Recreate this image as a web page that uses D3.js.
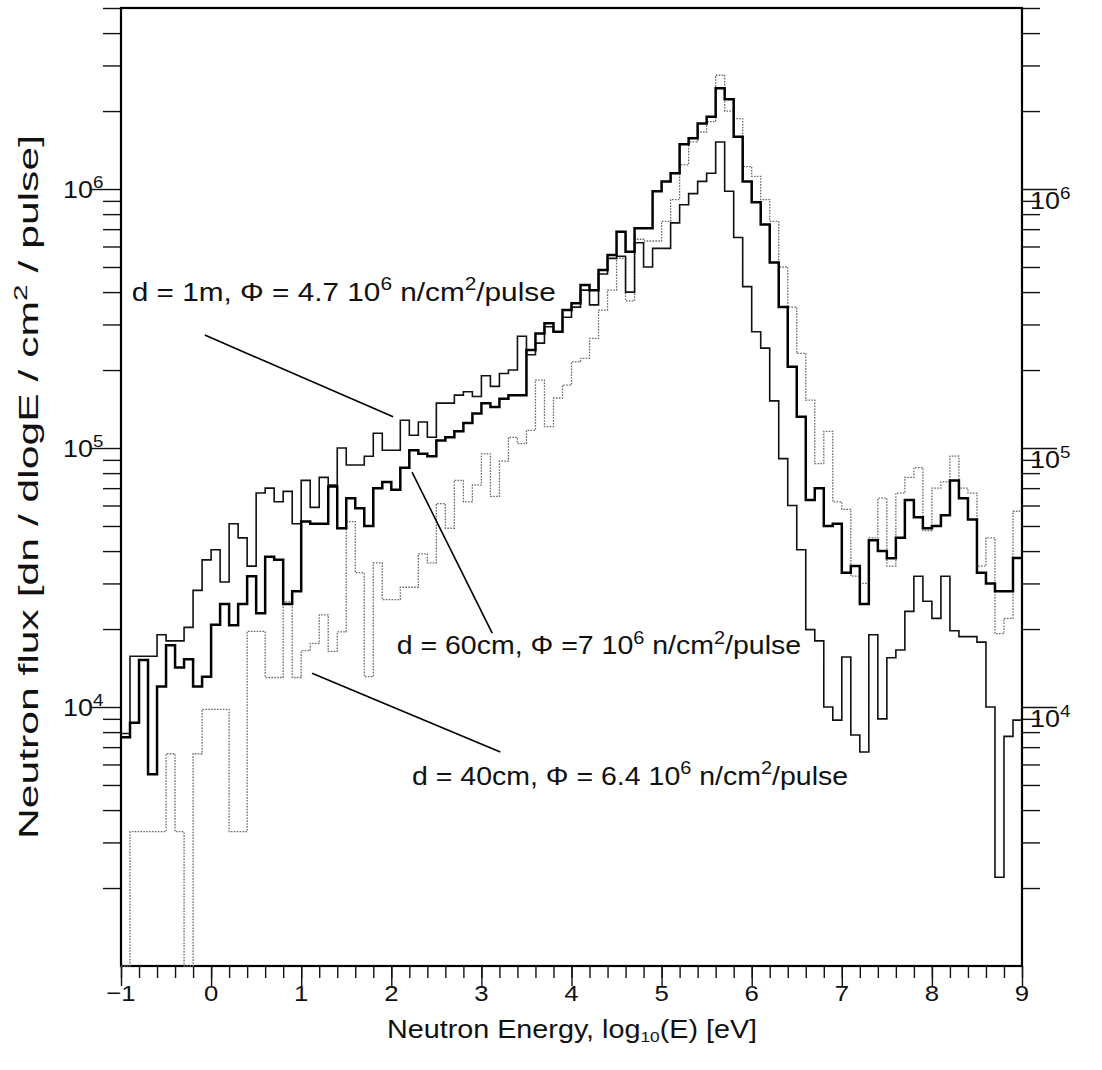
<!DOCTYPE html>
<html>
<head>
<meta charset="utf-8">
<script src="https://cdn.jsdelivr.net/npm/d3@7"></script>
<style>
  body { margin: 0; background: #fff; }
  svg { display: block; }
  text { font-family: "Liberation Sans", Arial, Helvetica, sans-serif; fill: #111; }
</style>
</head>
<body>
<svg id="chart" width="1102" height="1070"></svg>
<script>
// lower edge of each log10(E) bin, 0.1 wide
const binLow = [
  -1.0,-0.9,-0.8,-0.7,-0.6,-0.5,-0.4,-0.3,-0.2,-0.1,
   0.0, 0.1, 0.2, 0.3, 0.4, 0.5, 0.6, 0.7, 0.8, 0.9,
   1.0, 1.1, 1.2, 1.3, 1.4, 1.5, 1.6, 1.7, 1.8, 1.9,
   2.0, 2.1, 2.2, 2.3, 2.4, 2.5, 2.6, 2.7, 2.8, 2.9,
   3.0, 3.1, 3.2, 3.3, 3.4, 3.5, 3.6, 3.7, 3.8, 3.9,
   4.0, 4.1, 4.2, 4.3, 4.4, 4.5, 4.6, 4.7, 4.8, 4.9,
   5.0, 5.1, 5.2, 5.3, 5.4, 5.5, 5.6, 5.7, 5.8, 5.9,
   6.0, 6.1, 6.2, 6.3, 6.4, 6.5, 6.6, 6.7, 6.8, 6.9,
   7.0, 7.1, 7.2, 7.3, 7.4, 7.5, 7.6, 7.7, 7.8, 7.9,
   8.0, 8.1, 8.2, 8.3, 8.4, 8.5, 8.6, 8.7, 8.8, 8.9
];
const binTop = 9.0;

// d = 1m (thin solid)
const flux1m = [
  7.9e3, 1.57e4, 1.57e4, 1.57e4, 1.9e4, 1.8e4, 1.8e4, 2.03e4, 2.82e4, 3.7e4,
  4.05e4, 3.04e4, 5.1e4, 4.5e4, 3.5e4, 6.7e4, 7.0e4, 6.2e4, 6.8e4, 5.1e4,
  7.5e4, 5.9e4, 7.7e4, 7.2e4, 1.0e5, 8.6e4, 8.6e4, 9.3e4, 1.14e5, 9.8e4,
  9.8e4, 1.28e5, 1.12e5, 1.26e5, 1.1e5, 1.49e5, 1.49e5, 1.6e5, 1.65e5, 1.58e5,
  1.9e5, 1.73e5, 1.94e5, 2.0e5, 2.7e5, 2.29e5, 2.54e5, 2.94e5, 2.81e5, 3.2e5,
  3.5e5, 4.07e5, 3.57e5, 4.7e5, 5.4e5, 5.5e5, 4.0e5, 6.2e5, 5.0e5, 5.9e5,
  5.9e5, 7.4e5, 8.7e5, 9.6e5, 1.07e6, 1.15e6, 1.52e6, 9.8e5, 6.5e5, 4.2e5,
  2.81e5, 2.43e5, 1.52e5, 9.1e4, 6.0e4, 4.05e4, 1.99e4, 1.8e4, 1.0e4, 8.9e3,
  1.56e4, 7.8e3, 6.7e3, 1.9e4, 9.0e3, 1.55e4, 1.66e4, 2.34e4, 3.2e4, 2.56e4,
  2.2e4, 3.2e4, 1.97e4, 1.87e4, 1.87e4, 1.78e4, 1.0e4, 2.2e3, 7.7e3, 8.9e3
];

// d = 60cm (thick solid)
const flux60cm = [
  7.65e3, 8.7e3, 1.52e4, 5.5e3, 1.2e4, 1.73e4, 1.42e4, 1.53e4, 1.2e4, 1.31e4,
  2.08e4, 2.5e4, 2.07e4, 2.5e4, 3.2e4, 2.3e4, 3.8e4, 3.7e4, 2.5e4, 2.8e4,
  5.2e4, 5.1e4, 5.1e4, 7.1e4, 4.9e4, 6.4e4, 5.85e4, 5.0e4, 7.0e4, 7.4e4,
  6.9e4, 8.4e4, 9.8e4, 9.5e4, 9.3e4, 1.07e5, 1.1e5, 1.16e5, 1.25e5, 1.36e5,
  1.49e5, 1.44e5, 1.55e5, 1.6e5, 1.6e5, 2.39e5, 2.77e5, 3.03e5, 2.81e5, 3.41e5,
  3.62e5, 4.26e5, 4.07e5, 4.87e5, 5.56e5, 6.84e5, 5.73e5, 7.05e5, 7.05e5, 9.8e5,
  1.07e6, 1.15e6, 1.49e6, 1.57e6, 1.79e6, 1.9e6, 2.45e6, 2.22e6, 1.59e6, 1.07e6,
  8.9e5, 7.3e5, 5.2e5, 3.5e5, 2.06e5, 1.32e5, 6.3e4, 7.0e4, 5.0e4, 5.1e4,
  3.3e4, 3.5e4, 2.5e4, 4.4e4, 4.0e4, 3.75e4, 4.5e4, 6.3e4, 5.4e4, 4.9e4,
  5.0e4, 5.5e4, 7.5e4, 6.4e4, 5.3e4, 3.3e4, 3.0e4, 2.8e4, 2.8e4, 3.76e4
];

// d = 40cm (dotted, grey); 100 = below the axis
const flux40cm = [
  100, 3.3e3, 3.3e3, 3.3e3, 3.3e3, 6.6e3, 3.3e3, 100, 6.6e3, 9.8e3,
  9.8e3, 9.8e3, 3.3e3, 3.3e3, 1.96e4, 1.96e4, 1.3e4, 1.3e4, 2.55e4, 1.3e4,
  1.65e4, 1.76e4, 2.27e4, 1.64e4, 1.95e4, 5.2e4, 3.3e4, 1.31e4, 3.6e4, 2.6e4,
  2.6e4, 2.9e4, 2.9e4, 3.9e4, 3.6e4, 6.1e4, 4.9e4, 7.5e4, 6.2e4, 7.2e4,
  9.5e4, 6.5e4, 8.9e4, 1.1e5, 1.04e5, 1.17e5, 1.83e5, 1.21e5, 1.56e5, 1.75e5,
  2.15e5, 2.22e5, 2.65e5, 3.41e5, 4.07e5, 5.4e5, 3.7e5, 6.4e5, 6.3e5, 6.3e5,
  7.5e5, 9.1e5, 1.24e6, 1.52e6, 1.66e6, 1.82e6, 2.75e6, 2.0e6, 1.87e6, 1.22e6,
  1.12e6, 9.1e5, 7.5e5, 5.0e5, 3.5e5, 2.32e5, 1.53e5, 8.7e4, 1.16e5, 6.2e4,
  5.8e4, 3.2e4, 3.0e4, 4.5e4, 6.4e4, 3.5e4, 6.7e4, 7.7e4, 8.4e4, 4.8e4,
  7.0e4, 7.4e4, 9.3e4, 7.0e4, 6.7e4, 3.5e4, 4.5e4, 1.92e4, 2.2e4, 5.7e4
];

const xMajorTicks = [-1, 0, 1, 2, 3, 4, 5, 6, 7, 8, 9];
const xTickLabels = ["\u22121", "0", "1", "2", "3", "4", "5", "6", "7", "8", "9"];
const yDecades = [1e4, 1e5, 1e6];
const yDecadeExp = ["4", "5", "6"];

// label text, anchor (x in log10 E, y in flux) and pointer end points
const labels = [
  {parts: [["d = 1m, \u03A6 = 4.7 10"], ["6", "sup"], [" n/cm"], ["2", "sup"], ["/pulse"]],
   at: [-0.88, 3.7e5], from: [-0.07, 2.73e5], to: [2.02, 1.32e5], stretch: 1.19},
  {parts: [["d = 60cm, \u03A6 =7 10"], ["6", "sup"], [" n/cm"], ["2", "sup"], ["/pulse"]],
   at: [2.06, 1.6e4], from: [2.23, 8.07e4], to: [3.12, 1.93e4], stretch: 1.14},
  {parts: [["d = 40cm, \u03A6 = 6.4 10"], ["6", "sup"], [" n/cm"], ["2", "sup"], ["/pulse"]],
   at: [2.23, 5.0e3], from: [1.12, 1.35e4], to: [3.21, 6.7e3], stretch: 1.14}
];

const W = 1102, H = 1070;
const margin = {top: 8, right: 80, bottom: 104, left: 121};
const svg = d3.select("#chart");

const x = d3.scaleLinear().domain([-1, 9]).range([margin.left, W - margin.right]);
const y = d3.scaleLog().domain([1e3, 5e6]).range([H - margin.bottom, margin.top]).clamp(true);

function richText(g, parts, size){
    let t = g.append("text").attr("font-size", size);
    let shifted = null;
    parts.forEach(p => {
        let s = t.append("tspan").text(p[0]);
        if (p[1] === "sup") {
            s.attr("font-size", size * 0.7).attr("dy", -size * 0.42);
            shifted = "sup";
        } else if (p[1] === "sub") {
            s.attr("font-size", size * 0.6).attr("dy", size * 0.16);
            shifted = "sub";
        } else if (shifted === "sup") {
            s.attr("dy", size * 0.42); shifted = null;
        } else if (shifted === "sub") {
            s.attr("dy", -size * 0.16); shifted = null;
        }
    });
    return t;
}

// minor / major tick values for the log axis
let yMinor = [];
[1e3, 1e4, 1e5, 1e6].forEach(d => {
    for (let m = 2; m <= 9; m++) {
        if (m * d <= 5e6) yMinor.push(m * d);
    }
});
let xMinor = [];
for (let i = 0; i <= 50; i++) xMinor.push(-1 + i * 0.2);

// ---- axes ----
svg.append("g")
    .attr("transform", `translate(${margin.left},0)`)
    .call(d3.axisLeft(y).tickValues(yMinor).tickSize(18).tickSizeOuter(0).tickFormat(""));
svg.append("g")
    .attr("transform", `translate(${margin.left},0)`)
    .call(d3.axisLeft(y).tickValues(yDecades).tickSize(30).tickSizeOuter(0).tickFormat(""));
svg.append("g")
    .attr("transform", `translate(${W - margin.right},0)`)
    .call(d3.axisRight(y).tickValues(yMinor).tickSize(18).tickSizeOuter(0).tickFormat(""));
svg.append("g")
    .attr("transform", `translate(${W - margin.right},0)`)
    .call(d3.axisRight(y).tickValues(yDecades).tickSize(35).tickSizeOuter(0).tickFormat(""));
svg.append("g")
    .attr("transform", `translate(0,${H - margin.bottom})`)
    .call(d3.axisBottom(x).tickValues(xMinor).tickSize(12).tickSizeOuter(0).tickFormat(""));
svg.append("g")
    .attr("transform", `translate(0,${H - margin.bottom})`)
    .call(d3.axisBottom(x).tickValues(xMajorTicks).tickSize(20).tickSizeOuter(0).tickFormat(""));

svg.selectAll(".tick line").attr("stroke", "#111").attr("stroke-width", 1.4);
svg.selectAll(".domain").remove();

// x tick labels
xMajorTicks.forEach((v, i) => {
    svg.append("text")
        .attr("transform", `translate(${x(v)},${H - margin.bottom + 35}) scale(1.12,1)`)
        .attr("text-anchor", "middle")
        .attr("font-size", 23)
        .text(xTickLabels[i]);
});

// y tick labels, both sides
yDecades.forEach((v, i) => {
    let gl = svg.append("g")
        .attr("transform", `translate(${margin.left - 58},${y(v) + 9}) scale(1.12,1)`);
    richText(gl, [["10"], [yDecadeExp[i], "sup"]], 24);
    let gr = svg.append("g")
        .attr("transform", `translate(${W - margin.right + 8},${y(v) + 20}) scale(1.12,1)`);
    richText(gr, [["10"], [yDecadeExp[i], "sup"]], 24);
});

// frame
svg.append("rect")
    .attr("x", margin.left)
    .attr("y", margin.top)
    .attr("width", W - margin.left - margin.right)
    .attr("height", H - margin.top - margin.bottom)
    .attr("fill", "none")
    .attr("stroke", "#000")
    .attr("stroke-width", 2.2);

// ---- histograms ----
const step = d3.line()
    .x(d => x(d[0]))
    .y(d => y(d[1]))
    .curve(d3.curveStepAfter);

function histPoints(vals){
    let pts = binLow.map((b, i) => [b, vals[i]]);
    pts.push([binTop, vals[vals.length - 1]]);
    return pts;
}

svg.append("path")
    .attr("d", step(histPoints(flux40cm)))
    .attr("fill", "none")
    .attr("stroke", "#6a6a6a")
    .attr("stroke-width", 1.3)
    .attr("stroke-dasharray", "1.6,1.3");

svg.append("path")
    .attr("d", step(histPoints(flux1m)))
    .attr("fill", "none")
    .attr("stroke", "#111")
    .attr("stroke-width", 1.6);

svg.append("path")
    .attr("d", step(histPoints(flux60cm)))
    .attr("fill", "none")
    .attr("stroke", "#000")
    .attr("stroke-width", 2.5);

// ---- labels with pointers ----
labels.forEach(l => {
    svg.append("line")
        .attr("x1", x(l.from[0])).attr("y1", y(l.from[1]))
        .attr("x2", x(l.to[0])).attr("y2", y(l.to[1]))
        .attr("stroke", "#000")
        .attr("stroke-width", 1.6);
    let g = svg.append("g")
        .attr("transform", `translate(${x(l.at[0])},${y(l.at[1])}) scale(${l.stretch},1)`);
    richText(g, l.parts, 25);
});

// ---- axis titles ----
let gx = svg.append("g")
    .attr("transform", `translate(572,${H - 32}) scale(1.15,1)`);
richText(gx, [["Neutron Energy, log"], ["10", "sub"], ["(E) [eV]"]], 25)
    .attr("text-anchor", "middle");

let gy = svg.append("g")
    .attr("transform", `translate(38,${(margin.top + H - margin.bottom) / 2}) rotate(-90) scale(1.58,1)`);
richText(gy, [["Neutron flux  [dn / dlogE / cm"], ["2", "sup"], [" / pulse]"]], 27)
    .attr("text-anchor", "middle");
</script>
</body>
</html>
